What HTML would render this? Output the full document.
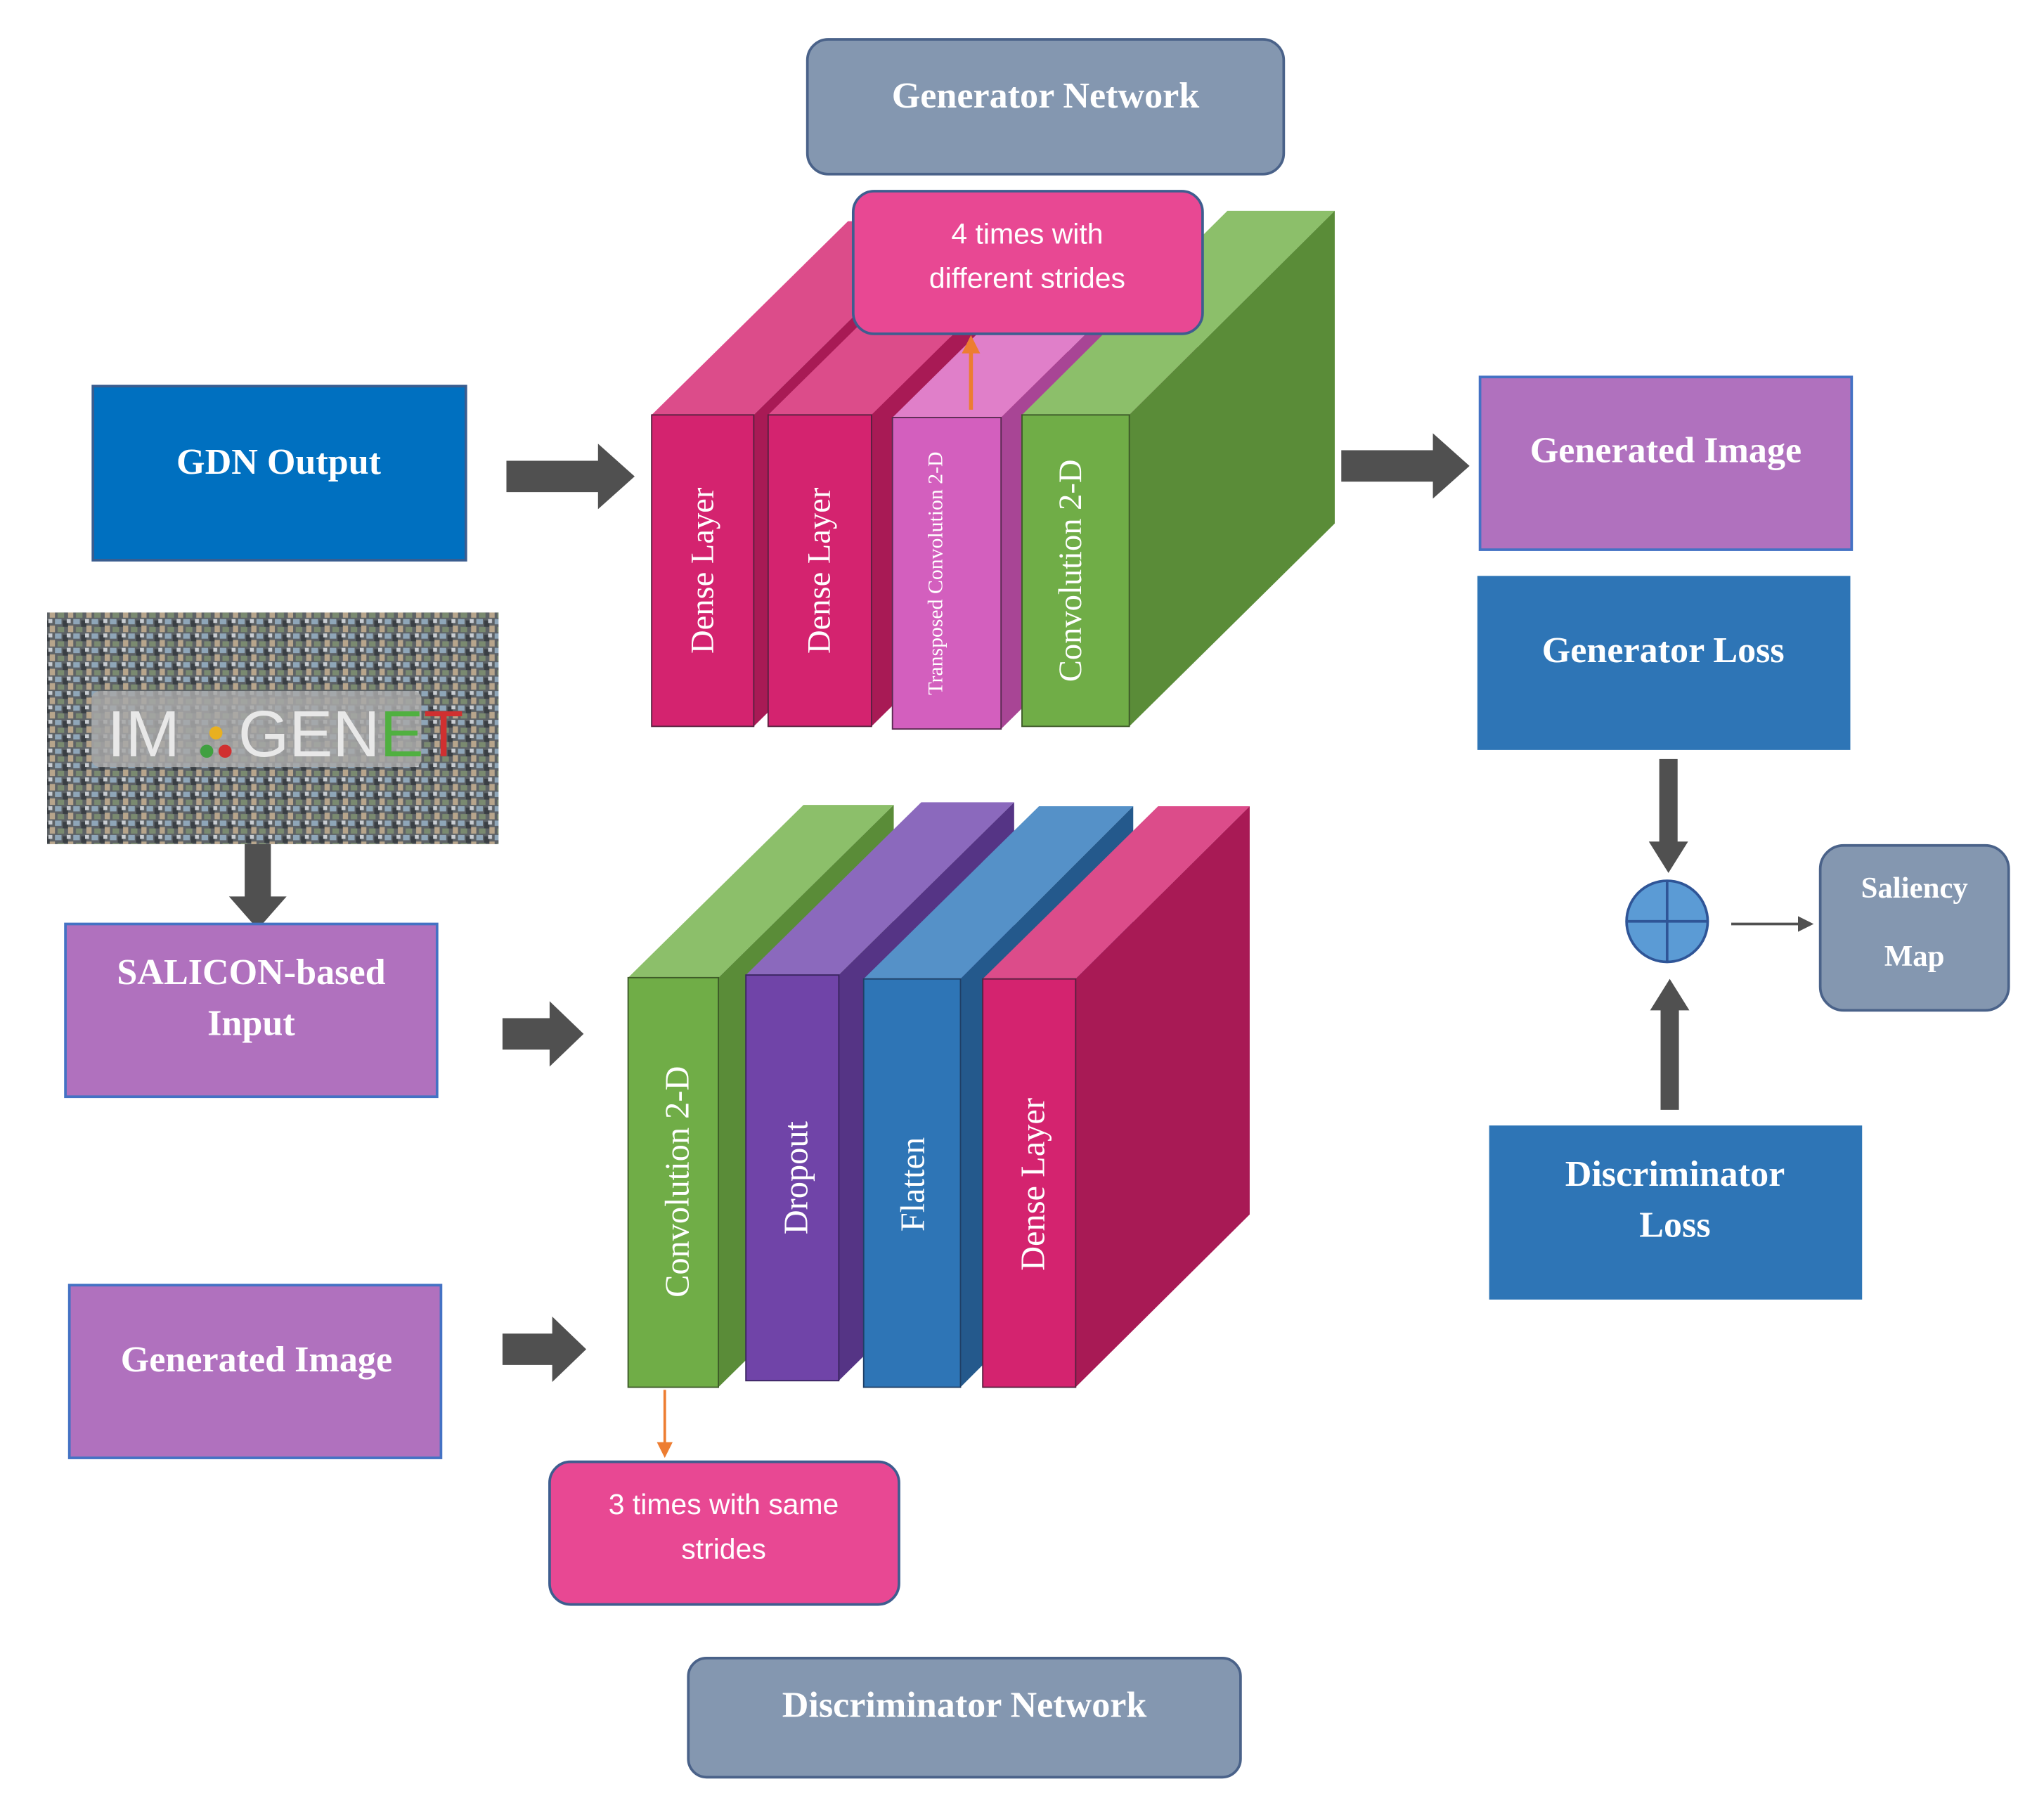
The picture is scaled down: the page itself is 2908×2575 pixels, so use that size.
<!DOCTYPE html>
<html><head><meta charset="utf-8"><style>
html,body{margin:0;padding:0;background:#fff;}
svg{display:block;}
.t{font-family:"Liberation Serif",serif;font-weight:bold;fill:#fff;}
.s{font-family:"Liberation Sans","DejaVu Sans",sans-serif;fill:#fff;}
.r{font-family:"Liberation Serif",serif;fill:#fff;}
</style></head><body>
<svg width="2908" height="2575" viewBox="0 0 1562 1383" xmlns="http://www.w3.org/2000/svg">
<defs>
<pattern id="mos" width="14" height="11" patternUnits="userSpaceOnUse">
<rect width="14" height="11" fill="#5d6266"/>
<rect x="0" y="0" width="5" height="4" fill="#8fa6b8"/>
<rect x="6" y="1" width="4" height="5" fill="#3a3f44"/>
<rect x="10" y="5" width="4" height="5" fill="#b7a58c"/>
<rect x="2" y="6" width="5" height="4" fill="#7a8a70"/>
<rect x="9" y="0" width="3" height="3" fill="#c9cdd2"/>
</pattern>
</defs>
<rect width="1562" height="1383" fill="#fff"/>

<!-- Generator Network title -->
<rect x="617" y="30" width="364" height="103" rx="16" fill="#8497b0" stroke="#4a6289" stroke-width="2"/>
<text x="799" y="82" class="t" font-size="28" text-anchor="middle">Generator Network</text>

<!-- GDN Output -->
<rect x="71" y="295" width="285" height="133" fill="#0070c0" stroke="#3a5d8f" stroke-width="2"/>
<text x="213" y="362" class="t" font-size="28" text-anchor="middle">GDN Output</text>

<!-- arrows -->
<g fill="#505050">
<polygon points="387,352 457,352 457,339 485,364 457,389 457,376 387,376"/>
<polygon points="1025,344 1095,344 1095,331 1123,356 1095,381 1095,368 1025,368"/>
<polygon points="384,778 420,778 420,765 446,790 420,815 420,802 384,802"/>
<polygon points="384,1019 422,1019 422,1006 448,1031 422,1056 422,1043 384,1043"/>
<polygon points="187,645 207,645 207,685 219,685 197,710 175,685 187,685"/>
<polygon points="1268,580 1282,580 1282,643 1290,643 1275,667 1260,643 1268,643"/>
<polygon points="1269,848 1283,848 1283,772 1291,772 1276,748 1261,772 1269,772"/>
</g>
<line x1="1323" y1="706" x2="1378" y2="706" stroke="#505050" stroke-width="2"/>
<polygon points="1386,706 1374,700 1374,712" fill="#505050"/>

<!-- Generator blocks -->
<g>
<polygon points="498,317 648,169 726,169 576,317" fill="#dc4c8a"/>
<polygon points="576,317 726,169 726,407 576,555" fill="#a81a55"/>
<rect x="498" y="317" width="78" height="238" fill="#d4236f" stroke="#5a2040" stroke-width="1"/>
<polygon points="587,317 737,169 816,169 666,317" fill="#dc4c8a"/>
<polygon points="666,317 816,169 816,407 666,555" fill="#a81a55"/>
<rect x="587" y="317" width="79" height="238" fill="#d4236f" stroke="#5a2040" stroke-width="1"/>
<polygon points="682,319 832,171 915,171 765,319" fill="#e07fc9"/>
<polygon points="765,319 915,171 915,409 765,557" fill="#a84595"/>
<rect x="682" y="319" width="83" height="238" fill="#d35fbe" stroke="#5a2a50" stroke-width="1"/>
<polygon points="781,317 938,161 1020,161 863,317" fill="#8cbf6a"/>
<polygon points="863,317 1020,161 1020,400 863,555" fill="#5a8c38"/>
<rect x="781" y="317" width="82" height="238" fill="#70ad47" stroke="#3d5a28" stroke-width="1"/>
</g>
<text transform="translate(545,436) rotate(-90)" class="r" font-size="25" text-anchor="middle">Dense Layer</text>
<text transform="translate(634,436) rotate(-90)" class="r" font-size="25" text-anchor="middle">Dense Layer</text>
<text transform="translate(720,438) rotate(-90)" class="r" font-size="16" text-anchor="middle">Transposed Convolution 2-D</text>
<text transform="translate(826,436) rotate(-90)" class="r" font-size="25" text-anchor="middle">Convolution 2-D</text>

<line x1="742" y1="313" x2="742" y2="266" stroke="#ed7d31" stroke-width="3"/>
<polygon points="742,256 735,270 749,270" fill="#ed7d31"/>
<rect x="652" y="146" width="267" height="109" rx="16" fill="#e84893" stroke="#3e5d8f" stroke-width="2"/>
<text x="785" y="186" class="s" font-size="22" text-anchor="middle">4 times with</text>
<text x="785" y="220" class="s" font-size="22" text-anchor="middle">different strides</text>

<!-- right side -->
<rect x="1131" y="288" width="284" height="132" fill="#b071be" stroke="#4472c4" stroke-width="2"/>
<text x="1273" y="353" class="t" font-size="28" text-anchor="middle">Generated Image</text>
<rect x="1129" y="440" width="285" height="133" fill="#2e75b6"/>
<text x="1271" y="506" class="t" font-size="28" text-anchor="middle">Generator Loss</text>
<circle cx="1274" cy="704" r="31" fill="#5b9bd5" stroke="#2f5597" stroke-width="2"/>
<line x1="1243" y1="704" x2="1305" y2="704" stroke="#2f5597" stroke-width="2"/>
<line x1="1274" y1="673" x2="1274" y2="735" stroke="#2f5597" stroke-width="2"/>
<rect x="1391" y="646" width="144" height="126" rx="18" fill="#8497b0" stroke="#4a6289" stroke-width="2"/>
<text x="1463" y="686" class="t" font-size="23" text-anchor="middle">Saliency</text>
<text x="1463" y="738" class="t" font-size="23" text-anchor="middle">Map</text>
<rect x="1138" y="860" width="285" height="133" fill="#2e75b6"/>
<text x="1280" y="906" class="t" font-size="28" text-anchor="middle">Discriminator</text>
<text x="1280" y="945" class="t" font-size="28" text-anchor="middle">Loss</text>

<!-- ImageNet -->
<rect x="36" y="468" width="345" height="177" fill="url(#mos)"/>
<rect x="70" y="528" width="252" height="58" rx="6" fill="#a8a8a8" opacity="0.85"/>
<text x="82" y="578" font-family="Liberation Sans,sans-serif" font-size="50" fill="#e8e8e8">IM</text>
<circle cx="165" cy="560" r="5" fill="#e8b020"/><circle cx="158" cy="574" r="5" fill="#40a040"/><circle cx="172" cy="574" r="5" fill="#d03030"/>
<text x="182" y="578" font-family="Liberation Sans,sans-serif" font-size="50" fill="#e8e8e8">GEN<tspan fill="#50b040">E</tspan><tspan fill="#d03030">T</tspan></text>

<!-- SALICON -->
<rect x="50" y="706" width="284" height="132" fill="#b071be" stroke="#4472c4" stroke-width="2"/>
<text x="192" y="752" class="t" font-size="28" text-anchor="middle">SALICON-based</text>
<text x="192" y="791" class="t" font-size="28" text-anchor="middle">Input</text>
<rect x="53" y="982" width="284" height="132" fill="#b071be" stroke="#4472c4" stroke-width="2"/>
<text x="196" y="1048" class="t" font-size="28" text-anchor="middle">Generated Image</text>

<!-- Discriminator blocks -->
<g>
<polygon points="480,747 614,615 683,615 549,747" fill="#8cbf6a"/>
<polygon points="549,747 683,615 683,928 549,1060" fill="#5a8c38"/>
<rect x="480" y="747" width="69" height="313" fill="#70ad47" stroke="#3d5a28" stroke-width="1"/>
<polygon points="570,745 704,613 775,613 641,745" fill="#8b69bd"/>
<polygon points="641,745 775,613 775,923 641,1055" fill="#553485"/>
<rect x="570" y="745" width="71" height="310" fill="#7044a8" stroke="#3a2560" stroke-width="1"/>
<polygon points="660,748 794,616 866,616 734,748" fill="#5591c8"/>
<polygon points="734,748 866,616 866,928 734,1060" fill="#24598c"/>
<rect x="660" y="748" width="74" height="312" fill="#2e75b6" stroke="#1f3f66" stroke-width="1"/>
<polygon points="751,748 885,616 955,616 822,748" fill="#dc4c8a"/>
<polygon points="822,748 955,616 955,928 822,1060" fill="#a81a55"/>
<rect x="751" y="748" width="71" height="312" fill="#d4236f" stroke="#5a2040" stroke-width="1"/>
</g>
<text transform="translate(526,903) rotate(-90)" class="r" font-size="26" text-anchor="middle">Convolution 2-D</text>
<text transform="translate(617,900) rotate(-90)" class="r" font-size="26" text-anchor="middle">Dropout</text>
<text transform="translate(706,905) rotate(-90)" class="r" font-size="26" text-anchor="middle">Flatten</text>
<text transform="translate(798,905) rotate(-90)" class="r" font-size="26" text-anchor="middle">Dense Layer</text>

<line x1="508" y1="1062" x2="508" y2="1104" stroke="#ed7d31" stroke-width="2"/>
<polygon points="508,1114 502,1102 514,1102" fill="#ed7d31"/>
<rect x="420" y="1117" width="267" height="109" rx="16" fill="#e84893" stroke="#3e5d8f" stroke-width="2"/>
<text x="553" y="1157" class="s" font-size="22" text-anchor="middle">3 times with same</text>
<text x="553" y="1191" class="s" font-size="22" text-anchor="middle">strides</text>

<rect x="526" y="1267" width="422" height="91" rx="14" fill="#8497b0" stroke="#4a6289" stroke-width="2"/>
<text x="737" y="1312" class="t" font-size="28" text-anchor="middle">Discriminator Network</text>
</svg>
</body></html>
